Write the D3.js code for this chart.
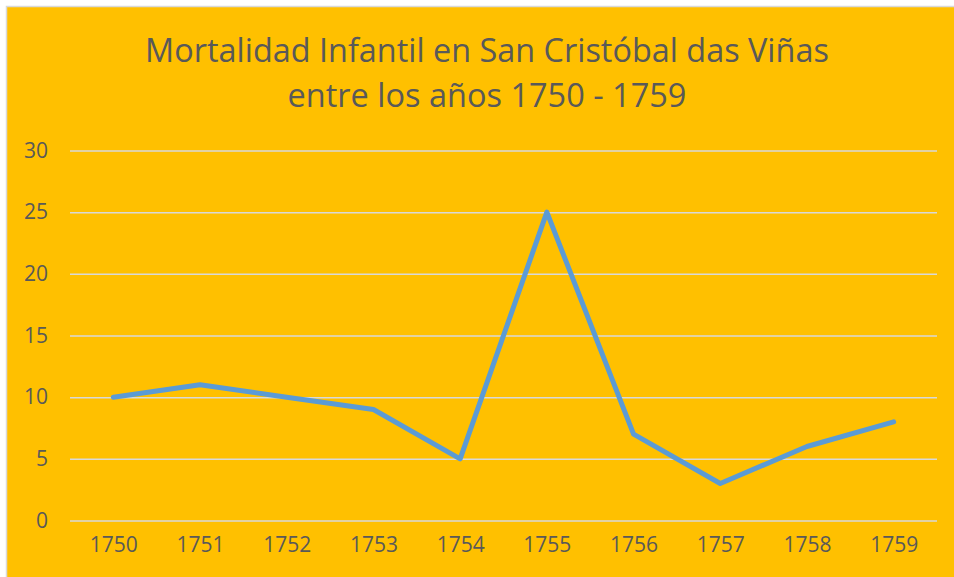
<!DOCTYPE html>
<html>
<head>
<meta charset="utf-8">
<script src="https://cdn.jsdelivr.net/npm/d3@7"></script>
<style>
  body { margin: 0; background: #fff; }
  svg { display: block; font-family: "Open Sans", sans-serif; }
</style>
</head>
<body>
<div id="chart"></div>
<script>
const width = 954;
const height = 577;

// datos
const years = ["1750", "1751", "1752", "1753", "1754", "1755", "1756", "1757", "1758", "1759"];
const deaths = [10, 11, 10, 9, 5, 25, 7, 3, 6, 8];
const yTicks = [0, 5, 10, 15, 20, 25, 30];
const titleLines = ["Mortalidad Infantil en San Cristóbal das Viñas", "entre los años 1750 - 1759"];

const textColor = "#595959";

const svg = d3.select("#chart").append("svg")
    .attr("width", width)
    .attr("height", height);

// fondo del grafico
svg.append("rect")
    .attr("x", 6.5)
    .attr("y", 6.5)
    .attr("width", 980)
    .attr("height", 600)
    .style("fill", "#FFC000")
    .style("stroke", "#d9d9d9")
    .style("stroke-width", 1.5);

// titulo
const titleWidths = [684, 399];
const title = svg.append("g");
titleLines.forEach(function(t, i) {
    const txt = title.append("text")
        .attr("x", 487)
        .attr("y", i == 0 ? 62 : 107)
        .attr("text-anchor", "middle")
        .style("fill", textColor)
        .style("font-size", "32px")
        .text(t);
    const w = txt.node().getComputedTextLength();
    txt.style("font-size", (32 * titleWidths[i] / w) + "px");
});

const x = d3.scalePoint()
    .domain(years)
    .range([70, 937])
    .padding(0.5);

const y = d3.scaleLinear()
    .domain([0, 30])
    .range([520.5, 150.5]);

// lineas de cuadricula
const yAxis = svg.append("g")
    .attr("transform", "translate(70,0)")
    .call(d3.axisLeft(y).tickValues(yTicks).tickSize(-867).tickPadding(22).tickFormat(d3.format("d")));

yAxis.select(".domain").remove();
yAxis.selectAll(".tick line")
    .style("stroke", "#d9d9d9")
    .style("stroke-width", 1.5);
yAxis.selectAll(".tick text")
    .style("fill", textColor)
    .style("font-size", "21px")
    .style("font-family", "'Open Sans', sans-serif");

const xAxis = svg.append("g")
    .attr("transform", "translate(0,520.5)")
    .call(d3.axisBottom(x).tickSize(0).tickPadding(17));

xAxis.select(".domain").remove();
xAxis.selectAll(".tick text")
    .style("fill", textColor)
    .style("font-size", "21px")
    .style("font-family", "'Open Sans', sans-serif");

// serie
const line = d3.line()
    .x((d, i) => x(years[i]))
    .y(d => y(d));

svg.append("path")
    .datum(deaths)
    .attr("d", line)
    .style("fill", "none")
    .style("stroke", "#5B9BD5")
    .style("stroke-width", 5)
    .style("stroke-linejoin", "round")
    .style("stroke-linecap", "round");
</script>
</body>
</html>
